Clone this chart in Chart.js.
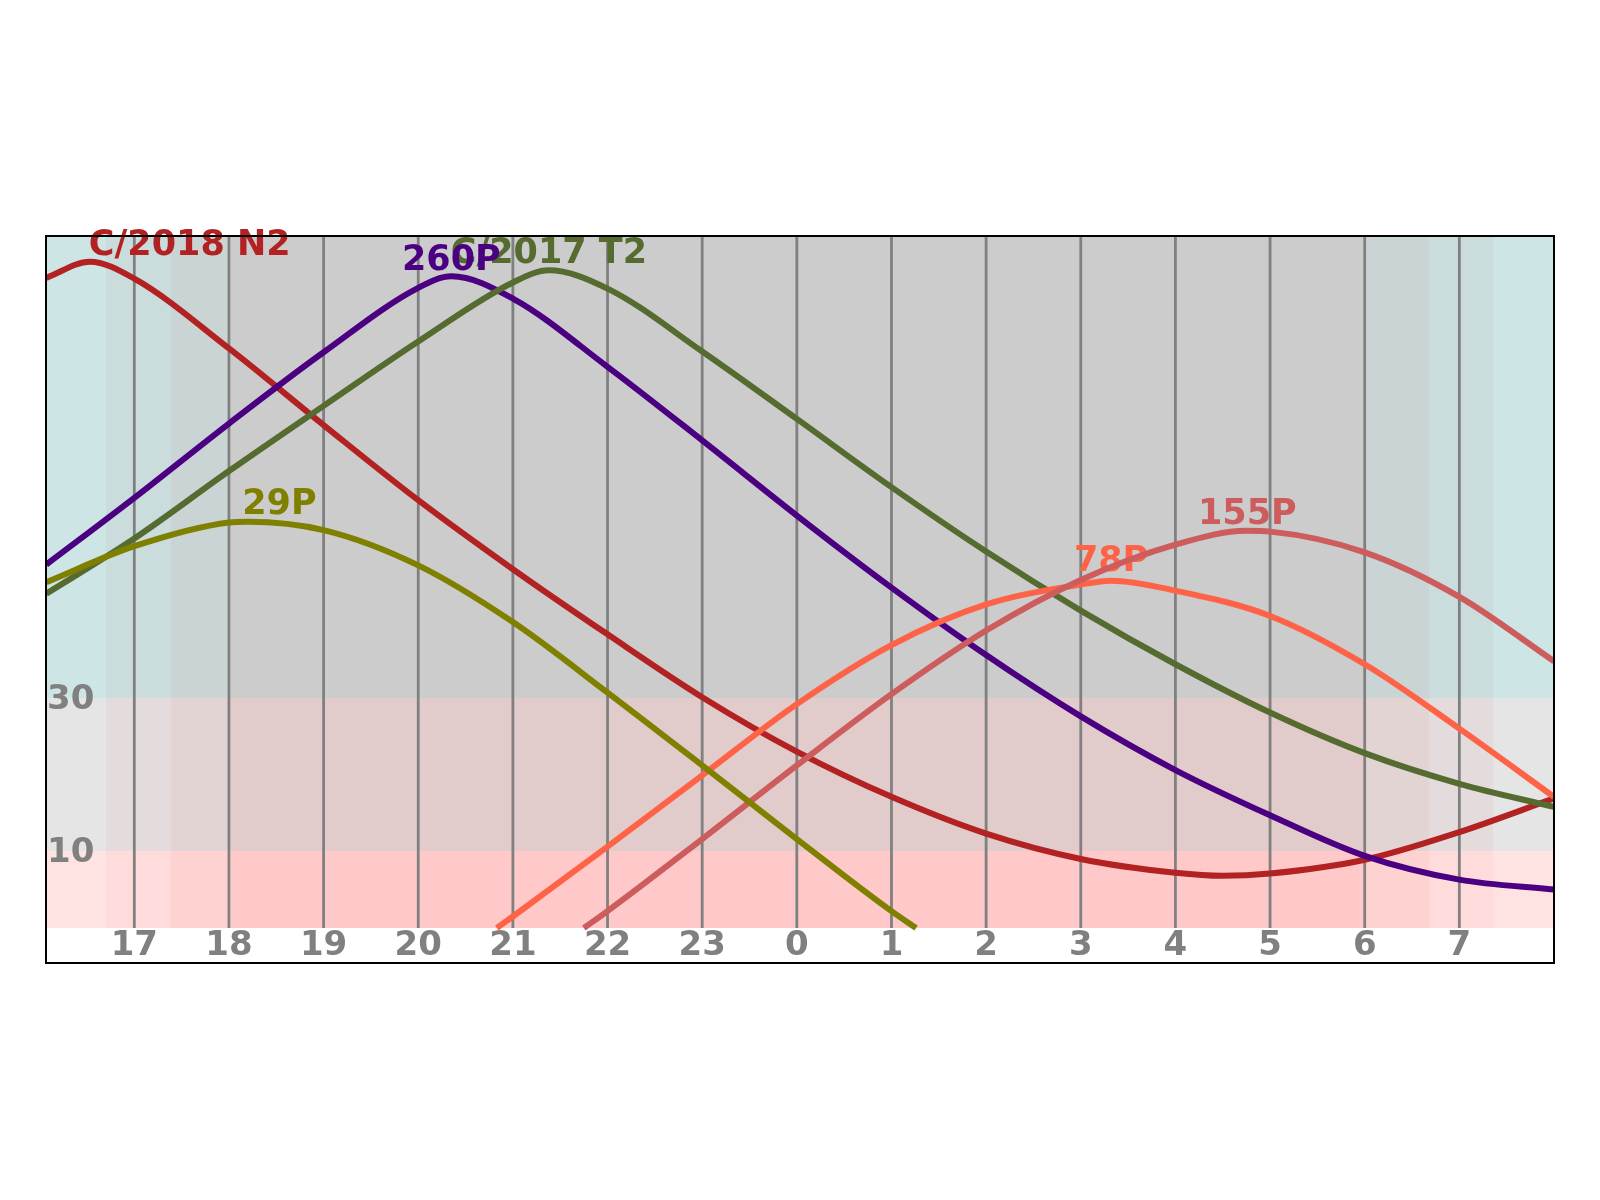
<!DOCTYPE html>
<html>
<head>
<meta charset="utf-8">
<title>Comet altitudes</title>
<script src="https://cdn.jsdelivr.net/npm/chart.js@4.4.1/dist/chart.umd.min.js"></script>
<style>
    html, body { margin: 0; padding: 0; background: #ffffff; }
    canvas { display: block; }
</style>
</head>
<body>
<canvas id="altChart" width="1600" height="1200"></canvas>
<script>
// hours are continuous: 24 = midnight, 31 = 7 h next morning
var hourMin = 16.067;
var hourMax = 32.0;
var altMin = -4.57;
var altMax = 90.26;

var tickHours = [17, 18, 19, 20, 21, 22, 23, 24, 25, 26, 27, 28, 29, 30, 31];
var tickLabels = ['17', '18', '19', '20', '21', '22', '23', '0', '1', '2', '3', '4', '5', '6', '7'];
var altTicks = [10, 30];
var altZones = [0, 10, 30];

// sunset / twilight ends, then morning twilight starts / sunrise
var twilightEdges = [16.70, 17.39, 18.02, 29.99, 30.68, 31.36];
var twilightLevels = [0, 1, 2, 3, 2, 1, 0];

var n2Hours = [16.07, 16.53, 17, 18, 19, 20, 21, 22, 23, 24, 25, 26, 27, 28, 28.5, 29, 30, 31, 32];
var n2Alt = [84.8, 86.9, 84.7, 75.6, 65.6, 55.8, 46.8, 38.3, 30.1, 23.0, 17.1, 12.3, 9.0, 7.2, 6.8, 7.1, 8.9, 12.5, 16.9];

var p260Hours = [16.07, 17, 18, 19, 20, 20.35, 21, 22, 23, 24, 25, 26, 27, 28, 29, 30, 31, 32];
var p260Alt = [47.4, 56.1, 65.8, 75.1, 83.5, 85.0, 82.1, 73.2, 63.6, 53.8, 44.4, 35.6, 27.6, 20.6, 14.7, 9.4, 6.3, 5.0];

var t2Hours = [16.07, 17, 18, 19, 20, 21, 21.38, 22, 23, 24, 25, 26, 27, 28, 29, 30, 31, 32];
var t2Alt = [43.6, 50.8, 59.6, 68.1, 76.5, 84.2, 85.8, 83.4, 75.2, 66.4, 57.5, 49.1, 41.4, 34.4, 28.1, 22.8, 18.8, 15.8];

var p29Hours = [16.07, 17, 18, 18.2, 19, 20, 21, 22, 23, 24, 25, 25.26];
var p29Alt = [45.1, 49.8, 52.9, 53.0, 51.9, 47.3, 39.9, 30.7, 21.2, 11.6, 2.2, 0];

var p78Hours = [20.83, 21, 22, 23, 24, 25, 26, 27, 27.32, 28, 29, 30, 31, 32];
var p78Alt = [0, 1.5, 10.6, 19.9, 29.2, 36.9, 42.2, 44.8, 45.3, 44.0, 40.7, 34.4, 26.0, 17.1];

var p155Hours = [21.75, 22, 23, 24, 25, 26, 27, 28, 28.75, 29, 30, 31, 32];
var p155Alt = [0, 2.2, 11.6, 21.2, 30.5, 38.8, 45.4, 50.0, 51.8, 51.7, 49.0, 43.2, 34.8];

var cometNames = ['29P', '155P', '78P', 'C/2017 T2', '260P', 'C/2018 N2'];
var labelHours = [18.14, 28.76, 27.32, 21.38, 20.35, 16.52];
var labelAlts = [54.0, 52.7, 46.5, 86.7, 85.8, 87.8];
var labelAlign = ['left', 'center', 'center', 'center', 'center', 'left'];

var cometColors = ['#808000', '#cd5c5c', '#ff6347', '#556b2f', '#4b0082', '#b22222'];
var cometHours = [p29Hours, p155Hours, p78Hours, t2Hours, p260Hours, n2Hours];
var cometAlts = [p29Alt, p155Alt, p78Alt, t2Alt, p260Alt, n2Alt];

// band colours: [zone 0-10, 10-30, 30+][twilight level]
var bandColors = [
    ['#ffe2e2', '#ffdbdb', '#ffd2d2', '#ffc9c9'],
    ['#e5e5e5', '#e4dcdc', '#e3d4d4', '#e2cbcb'],
    ['#cde5e5', '#cbdcdc', '#cbd4d4', '#cccccc']
];

var TICK_FONT = 'bold 34px "DejaVu Sans", sans-serif';
var LABEL_FONT = 'bold 35px "DejaVu Sans", sans-serif';
var GREY = '#808080';

function toPoints(hours, alts) {
    return hours.map(function (h, i) { return { x: h, y: alts[i] }; });
}

var datasets = cometNames.map(function (name, i) {
    return {
        label: name,
        data: toPoints(cometHours[i], cometAlts[i]),
        borderColor: cometColors[i],
        borderWidth: 6,
        pointRadius: 0,
        fill: false,
        cubicInterpolationMode: 'monotone'
    };
});

var backdrop = {
    id: 'backdrop',
    beforeDatasetsDraw: function (chart) {
        var ctx = chart.ctx;
        var xs = chart.scales.x;
        var ys = chart.scales.y;
        var area = chart.chartArea;

        ctx.save();
        var edges = [xs.min].concat(twilightEdges).concat([xs.max]);
        var zoneTops = altZones.slice(1).concat([ys.max]);
        for (var s = 0; s < edges.length - 1; s++) {
            var x0 = Math.round(xs.getPixelForValue(edges[s]));
            var x1 = Math.round(xs.getPixelForValue(edges[s + 1]));
            for (var z = 0; z < altZones.length; z++) {
                var yb = Math.round(ys.getPixelForValue(altZones[z]));
                var yt = Math.round(ys.getPixelForValue(zoneTops[z]));
                ctx.fillStyle = bandColors[z][twilightLevels[s]];
                ctx.fillRect(x0, yt, x1 - x0, yb - yt);
            }
        }

        // hour lines, only above the horizon
        var y0 = ys.getPixelForValue(0);
        ctx.strokeStyle = GREY;
        ctx.lineWidth = 2.8;
        tickHours.forEach(function (h) {
            var px = xs.getPixelForValue(h);
            ctx.beginPath();
            ctx.moveTo(px, y0);
            ctx.lineTo(px, area.top);
            ctx.stroke();
        });

        ctx.font = TICK_FONT;
        ctx.fillStyle = GREY;
        ctx.textBaseline = 'alphabetic';
        ctx.textAlign = 'center';
        tickHours.forEach(function (h, i) {
            ctx.fillText(tickLabels[i], xs.getPixelForValue(h), y0 + 27);
        });
        ctx.textAlign = 'left';
        altTicks.forEach(function (v) {
            ctx.fillText(String(v), area.left + 1, ys.getPixelForValue(v) + 11);
        });

        ctx.font = LABEL_FONT;
        cometNames.forEach(function (name, i) {
            ctx.fillStyle = cometColors[i];
            ctx.textAlign = labelAlign[i];
            ctx.fillText(name, xs.getPixelForValue(labelHours[i]), ys.getPixelForValue(labelAlts[i]));
        });
        ctx.restore();
    },
    afterDraw: function (chart) {
        var ctx = chart.ctx;
        var a = chart.chartArea;
        ctx.save();
        ctx.strokeStyle = '#000000';
        ctx.lineWidth = 2;
        ctx.strokeRect(a.left, a.top, a.right - a.left, a.bottom - a.top);
        ctx.restore();
    }
};

new Chart(document.getElementById('altChart'), {
    type: 'line',
    data: { datasets: datasets },
    options: {
        responsive: false,
        animation: false,
        devicePixelRatio: 1,
        layout: { padding: { left: 46, right: 46, top: 236, bottom: 237 } },
        scales: {
            x: { type: 'linear', min: hourMin, max: hourMax, display: false },
            y: { type: 'linear', min: altMin, max: altMax, display: false }
        },
        plugins: {
            legend: { display: false },
            tooltip: { enabled: false }
        }
    },
    plugins: [backdrop]
});
</script>
</body>
</html>
